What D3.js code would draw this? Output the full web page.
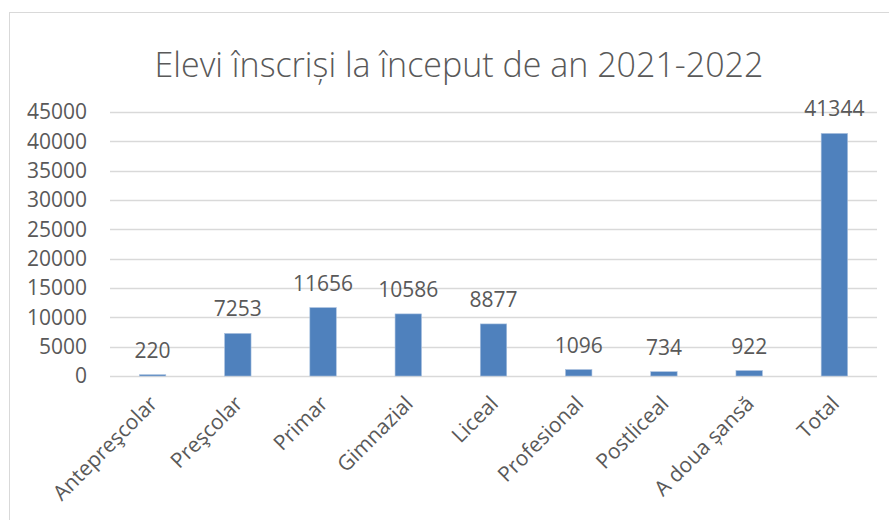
<!DOCTYPE html>
<html>
<head>
<meta charset="utf-8">
<script src="https://cdn.jsdelivr.net/npm/d3@7"></script>
<style>
  body { margin: 0; background: #fff; }
  text { font-family: "Open Sans", "Noto Sans", sans-serif; fill: #595959; }
</style>
</head>
<body>
<svg id="chart"></svg>
<script>
const categories = ['Antepreşcolar', 'Preşcolar', 'Primar', 'Gimnazial', 'Liceal',
  'Profesional', 'Postliceal', 'A doua șansă', 'Total'];
const values = [220, 7253, 11656, 10586, 8877, 1096, 734, 922, 41344];
const yTicks = [0, 5000, 10000, 15000, 20000, 25000, 30000, 35000, 40000, 45000];

const width = 889, height = 520;
const margin = {top: 112, right: 12, bottom: 144, left: 110};

const svg = d3.select('#chart')
  .attr('width', width)
  .attr('height', height);

// chart frame
svg.append('rect')
  .attr('x', 9.5).attr('y', 12.5)
  .attr('width', width - 9).attr('height', height)
  .attr('fill', '#fff')
  .attr('stroke', '#d9d9d9');

const innerW = width - margin.left - margin.right;
const innerH = height - margin.top - margin.bottom;

const chart = svg.append('g')
  .attr('transform', `translate(${margin.left}, ${margin.top})`);

const xscale = d3.scaleBand()
  .domain(categories)
  .range([0, innerW])
  .paddingInner(0.69)
  .paddingOuter(0.345);

const yscale = d3.scaleLinear()
  .domain([0, 45000])
  .range([innerH, 0]);

// gridlines
chart.append('g')
  .selectAll('line')
  .data(yTicks)
  .join('line')
  .attr('x1', 0).attr('x2', innerW)
  .attr('y1', d => Math.round(yscale(d)) + 0.5)
  .attr('y2', d => Math.round(yscale(d)) + 0.5)
  .attr('stroke', '#d9d9d9')
  .attr('stroke-width', 1.3);

// y axis
const yaxis = d3.axisLeft(yscale)
  .tickValues(yTicks)
  .tickSize(0)
  .tickPadding(23)
  .tickFormat(d3.format('d'));

chart.append('g')
  .call(yaxis)
  .call(g => g.select('.domain').remove())
  .selectAll('text')
  .style('font-size', '21px')
  .attr('fill', '#595959');

// bars
chart.selectAll('rect.bar')
  .data(values)
  .join('rect')
  .attr('class', 'bar')
  .attr('x', (d, i) => xscale(categories[i]))
  .attr('y', d => yscale(d))
  .attr('width', xscale.bandwidth())
  .attr('height', d => innerH - yscale(d))
  .attr('fill', '#4f81bd')
  .attr('stroke', '#a7bfde')
  .attr('stroke-width', 0.6);

// value labels
chart.selectAll('text.val')
  .data(values)
  .join('text')
  .attr('class', 'val')
  .attr('x', (d, i) => xscale(categories[i]) + xscale.bandwidth() / 2)
  .attr('y', d => yscale(d) - 17)
  .attr('text-anchor', 'middle')
  .style('font-size', '21px')
  .attr('fill', '#404040')
  .text(d => d);

// x axis
const xaxis = d3.axisBottom(xscale).tickSize(0).tickPadding(0);
chart.append('g')
  .attr('transform', `translate(0, ${innerH})`)
  .call(xaxis)
  .call(g => g.select('.domain').remove())
  .selectAll('text')
  .style('font-size', '21px')
  .attr('fill', '#595959')
  .attr('text-anchor', 'end')
  .attr('dy', 0)
  .attr('transform', 'translate(6, 29) rotate(-45)');

// title
svg.append('text')
  .attr('x', 459)
  .attr('y', 77)
  .attr('text-anchor', 'middle')
  .style('font-size', '34px')
  .style('font-weight', 300)
  .attr('fill', '#595959')
  .text('Elevi înscriși la început de an 2021-2022');
</script>
</body>
</html>
